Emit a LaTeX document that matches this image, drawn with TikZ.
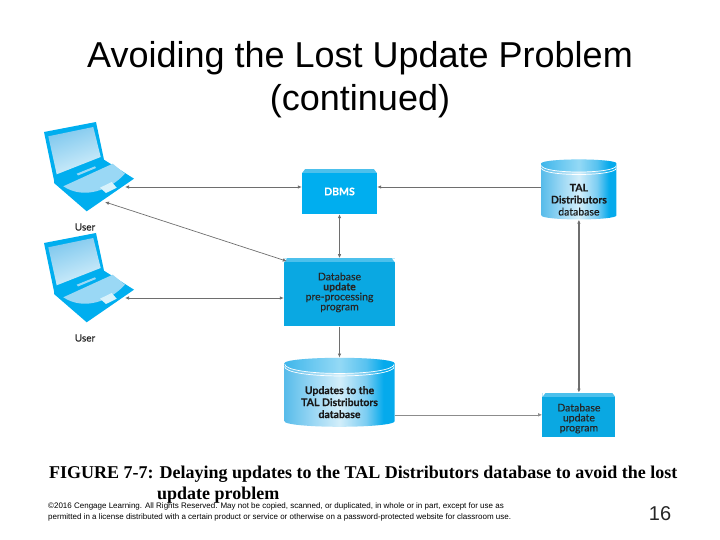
\documentclass[tikz,border=0pt]{standalone}
\usepackage{fontspec}
\usepackage{xcolor}
\setmainfont{Liberation Sans}
\newfontfamily\boxfont[FakeBold=.25]{Lato}
\newfontfamily\capfont{Liberation Serif}
\usetikzlibrary{positioning,arrows.meta,calc,shapes.geometric}
\definecolor{blockblue}{HTML}{0AA8E2}
\definecolor{dbmsblue}{HTML}{00AEEF}
\definecolor{bevelblue}{HTML}{4CC0EC}
\definecolor{wireg}{HTML}{6E6E6E}
\definecolor{dbA}{HTML}{58BCEA}
\definecolor{dbB}{HTML}{9AD7F4}
\definecolor{dbC}{HTML}{D2EEFA}
\definecolor{dbD}{HTML}{7CCDF2}
\definecolor{dbE}{HTML}{05AAEC}
\definecolor{lapscreen}{HTML}{7FC8EE}
\definecolor{lapglow}{HTML}{D4EFFB}
\definecolor{lapkey}{HTML}{9AD8F5}
\definecolor{lappad}{HTML}{D8F2FB}
\pgfdeclarehorizontalshading{dbshade}{100bp}{
  color(0bp)=(dbA); color(25bp)=(dbA); color(38bp)=(dbB); color(50bp)=(dbC);
  color(62bp)=(dbD); color(70bp)=(dbE); color(75bp)=(dbE); color(100bp)=(dbE)}
\tikzset{
  pics/laptop/.style={code={
    \begin{scope}[y=-1pt]
      \fill[dbmsblue] (0,10) -- (52,0) -- (60,37.7) -- (90,56.7) -- (42.7,89.3) -- (10,61) -- (10,58.3) -- cycle;
      \shade[top color=lapscreen,bottom color=lapglow,shading angle=20]
        (4.3,14.3) -- (49.3,5) -- (56.7,35) -- (12.7,52.3) -- cycle;
      \fill[lapkey] (32.7,51.7) -- (51,44.3) -- (52,46) -- (34,53.5) -- cycle;
      \fill[lapkey] (19.3,64.3) -- (68.7,41.7) -- (81,51.7) .. controls (66,68) and (40,78) .. (19.3,64.3) -- cycle;
      \fill[lappad] (56,65.7) -- (67.7,60) -- (72.7,65.7) -- (62,71) -- cycle;
      \coordinate (-dbms) at (81,65);
      \coordinate (-pre) at (61,80);
      \coordinate (-lab) at (41,105);
    \end{scope}
  }}
}
\begin{document}
\begin{tikzpicture}[
  x=1pt,y=1pt,
  node distance=44pt and 164pt,
  headline/.style={font=\fontsize{36}{43}\selectfont,align=center},
  block/.style={rectangle,fill=blockblue,minimum width=#1,align=center,inner sep=0pt,
    font=\boxfont\fontsize{10.5}{10}\selectfont,text=black!85,
    path picture={
      \fill[bevelblue] (path picture bounding box.north west) rectangle ($(path picture bounding box.north east)+(0,-4)$);
      \fill[white] (path picture bounding box.north west) -- +(3,0) -- +(0,-4) -- cycle;
      \fill[white] (path picture bounding box.north east) -- +(-3,0) -- +(0,-4) -- cycle;
    }},
  dbase/.style={cylinder,shape border rotate=90,shape aspect=#1,shading=dbshade,align=center,
    inner sep=0pt,font=\boxfont\fontsize{10.5}{12}\selectfont,text=black!90,
    path picture={
      \fill[dbE,opacity=.3] (path picture bounding box.north west)
        -- ($(path picture bounding box.north west)+(0,-6)$)
        to[out=-90,in=-90,looseness=.3] ($(path picture bounding box.north east)+(0,-6)$)
        -- (path picture bounding box.north east) -- cycle;
      \draw[white,line width=.7pt] ($(path picture bounding box.north west)+(0,-6)$)
        to[out=-90,in=-90,looseness=.3] ($(path picture bounding box.north east)+(0,-6)$);
      \draw[white,line width=.7pt] ($(path picture bounding box.north west)+(0,-8.5)$)
        to[out=-90,in=-90,looseness=.3] ($(path picture bounding box.north east)+(0,-8.5)$);
    }},
  usertag/.style={font=\boxfont\fontsize{10}{10}\selectfont,text=black!85},
  arr/.style={{Latex[length=4pt,width=3.5pt]}-{Latex[length=4pt,width=3.5pt]},draw=wireg,line width=.7pt},
  arrone/.style={-{Latex[length=4pt,width=3.5pt]},draw=wireg,line width=.7pt},
  arrbold/.style={arr,line width=1.2pt}
]
  \useasboundingbox (0,0) rectangle (720,540);
  \node[headline] (title) at (360,460) {Avoiding the Lost Update Problem\\(continued)};

  \pic (lap1) at (44,418) {laptop};
  \pic (lap2) at (44,307) {laptop};
  \node[usertag] (user1) at (lap1-lab) {User};
  \node[usertag] (user2) at (lap2-lab) {User};

  \node[block=75pt,minimum height=45pt,fill=dbmsblue,text=white] (dbms) at (339.5,348.5) {\bfseries DBMS};
  \node[block=111pt,minimum height=68pt,below=of dbms] (preproc)
    {Database\\\textbf{update}\\pre-processing\\program};
  \node[dbase=.14,minimum width=110pt,minimum height=69pt,below=31pt of preproc] (updates)
    {\rule{0pt}{22pt}\bfseries Updates to the\\\bfseries TAL Distributors\\\bfseries database};
  \node[dbase=.14,minimum width=75pt,minimum height=60pt,right=of dbms] (tal)
    {\rule{0pt}{24pt}\bfseries TAL\\\bfseries Distributors\\database};
  \node[block=73pt,minimum height=44pt,below=173pt of tal] (program)
    {\rule{0pt}{15pt}Database\\update\\program};

  \draw[arr] (lap1-dbms) -- (lap1-dbms -| dbms.west);
  \draw[arrone] (tal.west |- lap1-dbms) -- (dbms.east |- lap1-dbms);
  \draw[arr] (lap1-pre) -- ($(preproc.north west)+(3,-3)$);
  \draw[arr] (lap2-dbms) -- (lap2-dbms -| preproc.west);
  \draw[arrbold] (dbms.south) -- (preproc.north);
  \draw[arrone] (preproc.south) -- (updates.north);
  \draw[arrbold] (tal.south) -- (program.north);
  \draw[arrone,draw=black!45] (updates.east |- program.west) -- (program.west);

  % Caption and page furniture
  \node[anchor=north west,align=left,inner sep=0pt,font=\capfont\bfseries\fontsize{18}{21}\selectfont] (caption) at (49,74)
    {FIGURE 7-7: Delaying updates to the TAL Distributors database to avoid the lost\\\hspace*{108pt}update problem};
  \node[anchor=north west,align=left,inner sep=0pt,font=\fontsize{8}{11}\selectfont] (rights) at (48,37)
    {\copyright 2016 Cengage Learning. All Rights Reserved. May not be copied, scanned, or duplicated, in whole or in part, except for use as\\permitted in a license distributed with a certain product or service or otherwise on a password-protected website for classroom use.};
  \node[font=\fontsize{20}{20}\selectfont,text=black!85] (pageno) at (660,26) {16};
\end{tikzpicture}
\end{document}
